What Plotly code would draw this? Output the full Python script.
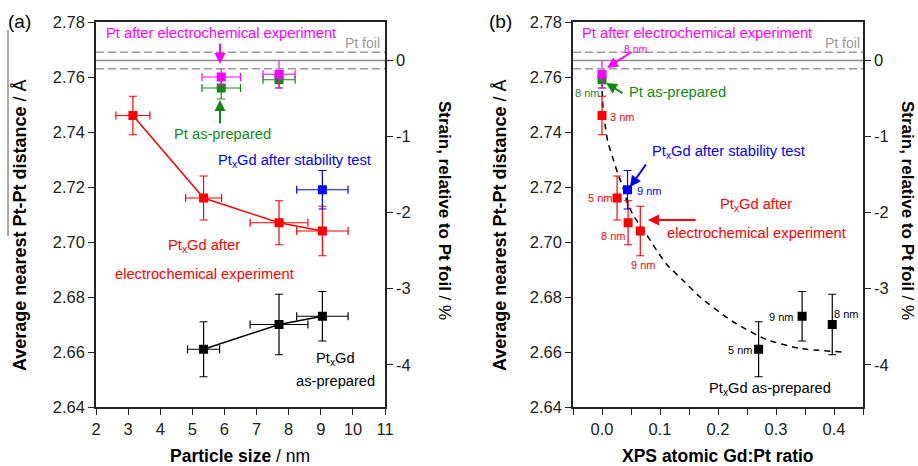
import plotly.graph_objects as go

W, H = 918, 466

# ---------------- data: panel (a) particle size ----------------
pt_echem_size = [5.9, 7.7]
pt_echem_d = [2.760, 2.761]
pt_echem_size_err = [0.6, 0.5]
pt_echem_d_err = [0.003, 0.005]

pt_prep_size = [5.9, 7.7]
pt_prep_d = [2.756, 2.759]
pt_prep_size_err = [0.6, 0.5]
pt_prep_d_err = [0.004, 0.003]

ptgd_echem_size = [3.15, 5.35, 7.7, 9.05]
ptgd_echem_d = [2.746, 2.716, 2.707, 2.704]
ptgd_echem_size_err = [0.53, 0.56, 0.9, 0.8]
ptgd_echem_d_err = [0.007, 0.008, 0.008, 0.009]

ptgd_stab_size = [9.05]
ptgd_stab_d = [2.719]
ptgd_stab_size_err = [0.8]
ptgd_stab_d_err = [0.007]

ptgd_prep_size = [5.35, 7.7, 9.05]
ptgd_prep_d = [2.661, 2.670, 2.673]
ptgd_prep_size_err = [0.5, 0.9, 0.8]
ptgd_prep_d_err = [0.010, 0.011, 0.009]

# ---------------- data: panel (b) XPS Gd:Pt ratio ----------------
pt_echem_ratio = [0.0]
pt_echem_ratio_d = [2.761]
pt_echem_ratio_err = [0.005]

pt_prep_ratio = [0.0]
pt_prep_ratio_d = [2.759]
pt_prep_ratio_err = [0.003]

ptgd_echem_ratio = [0.0, 0.026, 0.045, 0.066]
ptgd_echem_ratio_d = [2.746, 2.716, 2.707, 2.704]
ptgd_echem_ratio_err = [0.007, 0.008, 0.008, 0.009]

ptgd_stab_ratio = [0.044]
ptgd_stab_ratio_d = [2.719]
ptgd_stab_ratio_err = [0.007]

ptgd_prep_ratio = [0.27, 0.345, 0.397]
ptgd_prep_ratio_d = [2.661, 2.673, 2.670]
ptgd_prep_ratio_err = [0.010, 0.009, 0.011]

# dashed guide curve
guide_ratio = [0.0, 0.001, 0.005, 0.010, 0.018, 0.027, 0.036, 0.044, 0.056,
               0.076, 0.088, 0.111, 0.140, 0.169, 0.226, 0.284, 0.342, 0.414]
guide_d = [2.759, 2.751, 2.743, 2.7365, 2.731, 2.725, 2.720, 2.714, 2.709,
           2.703, 2.699, 2.692, 2.686, 2.680, 2.671, 2.6645, 2.6613, 2.660]

# Pt foil reference
pt_foil_d = 2.766
pt_foil_err = 0.003

# axes
d_range = [2.64, 2.78]
d_ticks = [2.64, 2.66, 2.68, 2.70, 2.72, 2.74, 2.76, 2.78]
strain_ticks = [-4, -3, -2, -1, 0]
strain_ticktext = ["-4", "-3", "-2", "-1", "0"]
size_range = [2, 11]
ratio_range = [-0.05, 0.45]

MAGENTA = "#ff00ff"
GREEN = "#118a11"
RED = "#ff0000"
BLUE = "#0000ff"
BLACK = "#000000"
GREY = "#9a9a9a"
FONT = "Liberation Sans, Arial, sans-serif"

strain_range = [(d_range[0] / pt_foil_d - 1) * 100, (d_range[1] / pt_foil_d - 1) * 100]

fig = go.Figure()


def add_series(x, y, xerr, yerr, color, xa, ya, lines=False):
    tr = dict(
        x=x, y=y, xaxis=xa, yaxis=ya,
        mode="lines+markers" if lines else "markers",
        marker=dict(symbol="square", size=9, color=color, line=dict(width=0)),
        line=dict(color=color, width=1.5),
        error_y=dict(type="data", array=yerr, color=color, thickness=1.2, width=4),
        showlegend=False, hoverinfo="skip",
    )
    if xerr is not None:
        tr["error_x"] = dict(type="data", array=xerr, color=color, thickness=1.2, width=4)
    fig.add_trace(go.Scatter(**tr))


# panel (a)
add_series(pt_prep_size, pt_prep_d, pt_prep_size_err, pt_prep_d_err, GREEN, "x", "y")
add_series(pt_echem_size, pt_echem_d, pt_echem_size_err, pt_echem_d_err, MAGENTA, "x", "y")
add_series(ptgd_echem_size, ptgd_echem_d, ptgd_echem_size_err, ptgd_echem_d_err, RED, "x", "y", lines=True)
add_series(ptgd_stab_size, ptgd_stab_d, ptgd_stab_size_err, ptgd_stab_d_err, BLUE, "x", "y")
add_series(ptgd_prep_size, ptgd_prep_d, ptgd_prep_size_err, ptgd_prep_d_err, BLACK, "x", "y", lines=True)
fig.add_trace(go.Scatter(x=[None], y=[None], xaxis="x", yaxis="y2", showlegend=False, hoverinfo="skip"))

# panel (b)
fig.add_trace(go.Scatter(x=guide_ratio, y=guide_d, xaxis="x2", yaxis="y3", mode="lines",
                         line=dict(color=BLACK, width=1.5, dash="6px,5px", shape="spline", smoothing=0.6),
                         showlegend=False, hoverinfo="skip"))
add_series(pt_prep_ratio, pt_prep_ratio_d, None, pt_prep_ratio_err, GREEN, "x2", "y3")
add_series(pt_echem_ratio, pt_echem_ratio_d, None, pt_echem_ratio_err, MAGENTA, "x2", "y3")
add_series(ptgd_echem_ratio, ptgd_echem_ratio_d, None, ptgd_echem_ratio_err, RED, "x2", "y3")
add_series(ptgd_stab_ratio, ptgd_stab_ratio_d, None, ptgd_stab_ratio_err, BLUE, "x2", "y3")
add_series(ptgd_prep_ratio, ptgd_prep_ratio_d, None, ptgd_prep_ratio_err, BLACK, "x2", "y3")
fig.add_trace(go.Scatter(x=[None], y=[None], xaxis="x2", yaxis="y4", showlegend=False, hoverinfo="skip"))

# Pt foil lines
for xr, yr in (("x domain", "y"), ("x2 domain", "y3")):
    fig.add_shape(type="line", xref=xr, yref=yr, x0=0, x1=1, y0=pt_foil_d, y1=pt_foil_d,
                  line=dict(color="#8a8a8a", width=1.5))
    for s in (-1, 1):
        yv = pt_foil_d + s * pt_foil_err
        fig.add_shape(type="line", xref=xr, yref=yr, x0=0, x1=1, y0=yv, y1=yv,
                      line=dict(color=GREY, width=1.5, dash="8px,4px"))


def px(x):
    return x / W


def py(y):
    return 1 - y / H


def ann(text, x, y, size=14.7, color=BLACK, xanchor="center", angle=0):
    fig.add_annotation(text=text, x=px(x), y=py(y), xref="paper", yref="paper",
                       xanchor=xanchor, yanchor="middle", showarrow=False, textangle=angle,
                       font=dict(family=FONT, size=size, color=color))


def arrow(x_tip, y_tip, x_tail, y_tail, color):
    fig.add_annotation(text="", x=px(x_tip), y=py(y_tip), xref="paper", yref="paper",
                       ax=x_tail - x_tip, ay=y_tail - y_tip, axref="pixel", ayref="pixel",
                       showarrow=True, arrowhead=2, arrowsize=1.1, arrowwidth=2, arrowcolor=color)


# ---- panel (a) texts ----
ann("(a)", 19, 22, 19)
ann("<b>Average nearest Pt-Pt distance</b> / Å", 20, 226, 18, angle=-90)
ann("<b>Strain, relative to Pt foil</b> / %", 445, 210, 17, angle=90)
ann("<b>Particle size</b> / nm", 240, 456, 17.5)
ann("Pt after electrochemical experiment", 221, 33, 14.7, MAGENTA)
ann("Pt foil", 362, 43, 14, GREY)
ann("Pt as-prepared", 222, 134, 14.7, GREEN)
ann("Pt<sub>x</sub>Gd after stability test", 294, 161, 14.7, BLUE)
ann("Pt<sub>x</sub>Gd after", 204, 246, 14.7, RED)
ann("electrochemical experiment", 204, 274, 14.7, RED)
ann("Pt<sub>x</sub>Gd", 335, 359, 14.7, BLACK)
ann("as-prepared", 335, 381, 14.7, BLACK)
arrow(220, 64, 220, 42, MAGENTA)
arrow(220, 100, 220, 125, GREEN)

# ---- panel (b) texts ----
ann("(b)", 500, 22, 19)
ann("<b>Average nearest Pt-Pt distance</b> / Å", 500, 226, 18, angle=-90)
ann("<b>Strain, relative to Pt foil</b> / %", 908, 210, 17, angle=90)
ann("<b>XPS atomic Gd:Pt ratio</b>", 718, 456, 17.5)
ann("Pt after electrochemical experiment", 697, 33, 14.7, MAGENTA)
ann("Pt foil", 842, 43, 14, GREY)
ann("8 nm", 636, 49, 10.5, MAGENTA)
ann("8 nm", 587, 93, 11, GREEN)
ann("Pt as-prepared", 677, 92, 14.7, GREEN)
ann("3 nm", 622, 117, 11, RED)
ann("Pt<sub>x</sub>Gd after stability test", 728, 152, 14.7, BLUE)
ann("9 nm", 649, 191, 11, BLUE)
ann("5 nm", 600, 198, 11, RED)
ann("Pt<sub>x</sub>Gd after", 756, 205, 14.7, RED)
ann("electrochemical experiment", 756, 233, 14.7, RED)
ann("8 nm", 613, 236, 11, RED)
ann("9 nm", 643, 265, 11, RED)
ann("9 nm", 781, 317, 11, BLACK)
ann("8 nm", 846, 314, 11, BLACK)
ann("5 nm", 740, 350, 11, BLACK)
ann("Pt<sub>x</sub>Gd as-prepared", 770, 389, 14.7, BLACK)
arrow(607, 68, 633, 51, MAGENTA)
arrow(606, 83, 624, 94, GREEN)
arrow(630, 187, 647, 163, BLUE)
arrow(648, 220, 697, 220, RED)

# left-edge thin line seen in the picture
fig.add_shape(type="line", xref="paper", yref="paper", x0=px(8), x1=px(8), y0=py(30), y1=py(236),
              line=dict(color="#555555", width=1))

ydom = [py(407), py(22)]
tickfont = dict(family=FONT, size=16.5, color="#222")
axis_common = dict(showline=True, linecolor="#222", linewidth=1.5, ticks="outside",
                   tickcolor="#222", tickwidth=1.3, ticklen=6, showgrid=False, zeroline=False,
                   tickfont=tickfont)

fig.update_layout(
    width=W, height=H, margin=dict(l=0, r=0, t=0, b=0, autoexpand=False),
    paper_bgcolor="white", plot_bgcolor="white", showlegend=False,
    xaxis=dict(domain=[px(96), px(385)], range=size_range, anchor="y", dtick=1, tick0=0,
               mirror=True, **axis_common),
    yaxis=dict(domain=ydom, range=d_range, anchor="x", tickvals=d_ticks,
               ticktext=[f"{v:.2f}" for v in d_ticks], **axis_common),
    yaxis2=dict(overlaying="y", side="right", anchor="x", range=strain_range,
                tickvals=strain_ticks, ticktext=strain_ticktext, **axis_common),
    xaxis2=dict(domain=[px(573), px(863)], range=ratio_range, anchor="y3", dtick=0.1, tick0=0,
                tickformat=".1f", mirror=True,
                minor=dict(dtick=0.05, tick0=0, ticks="outside", ticklen=6, tickcolor="#222", tickwidth=1.3),
                **axis_common),
    yaxis3=dict(domain=ydom, range=d_range, anchor="x2", tickvals=d_ticks,
                ticktext=[f"{v:.2f}" for v in d_ticks], **axis_common),
    yaxis4=dict(overlaying="y3", side="right", anchor="x2", range=strain_range,
                tickvals=strain_ticks, ticktext=strain_ticktext, **axis_common),
)

fig.write_html("out.html", config={"displayModeBar": False},
               post_script="document.body.style.margin='0px';document.body.style.padding='0px';"
                           "document.body.style.overflow='hidden';")
